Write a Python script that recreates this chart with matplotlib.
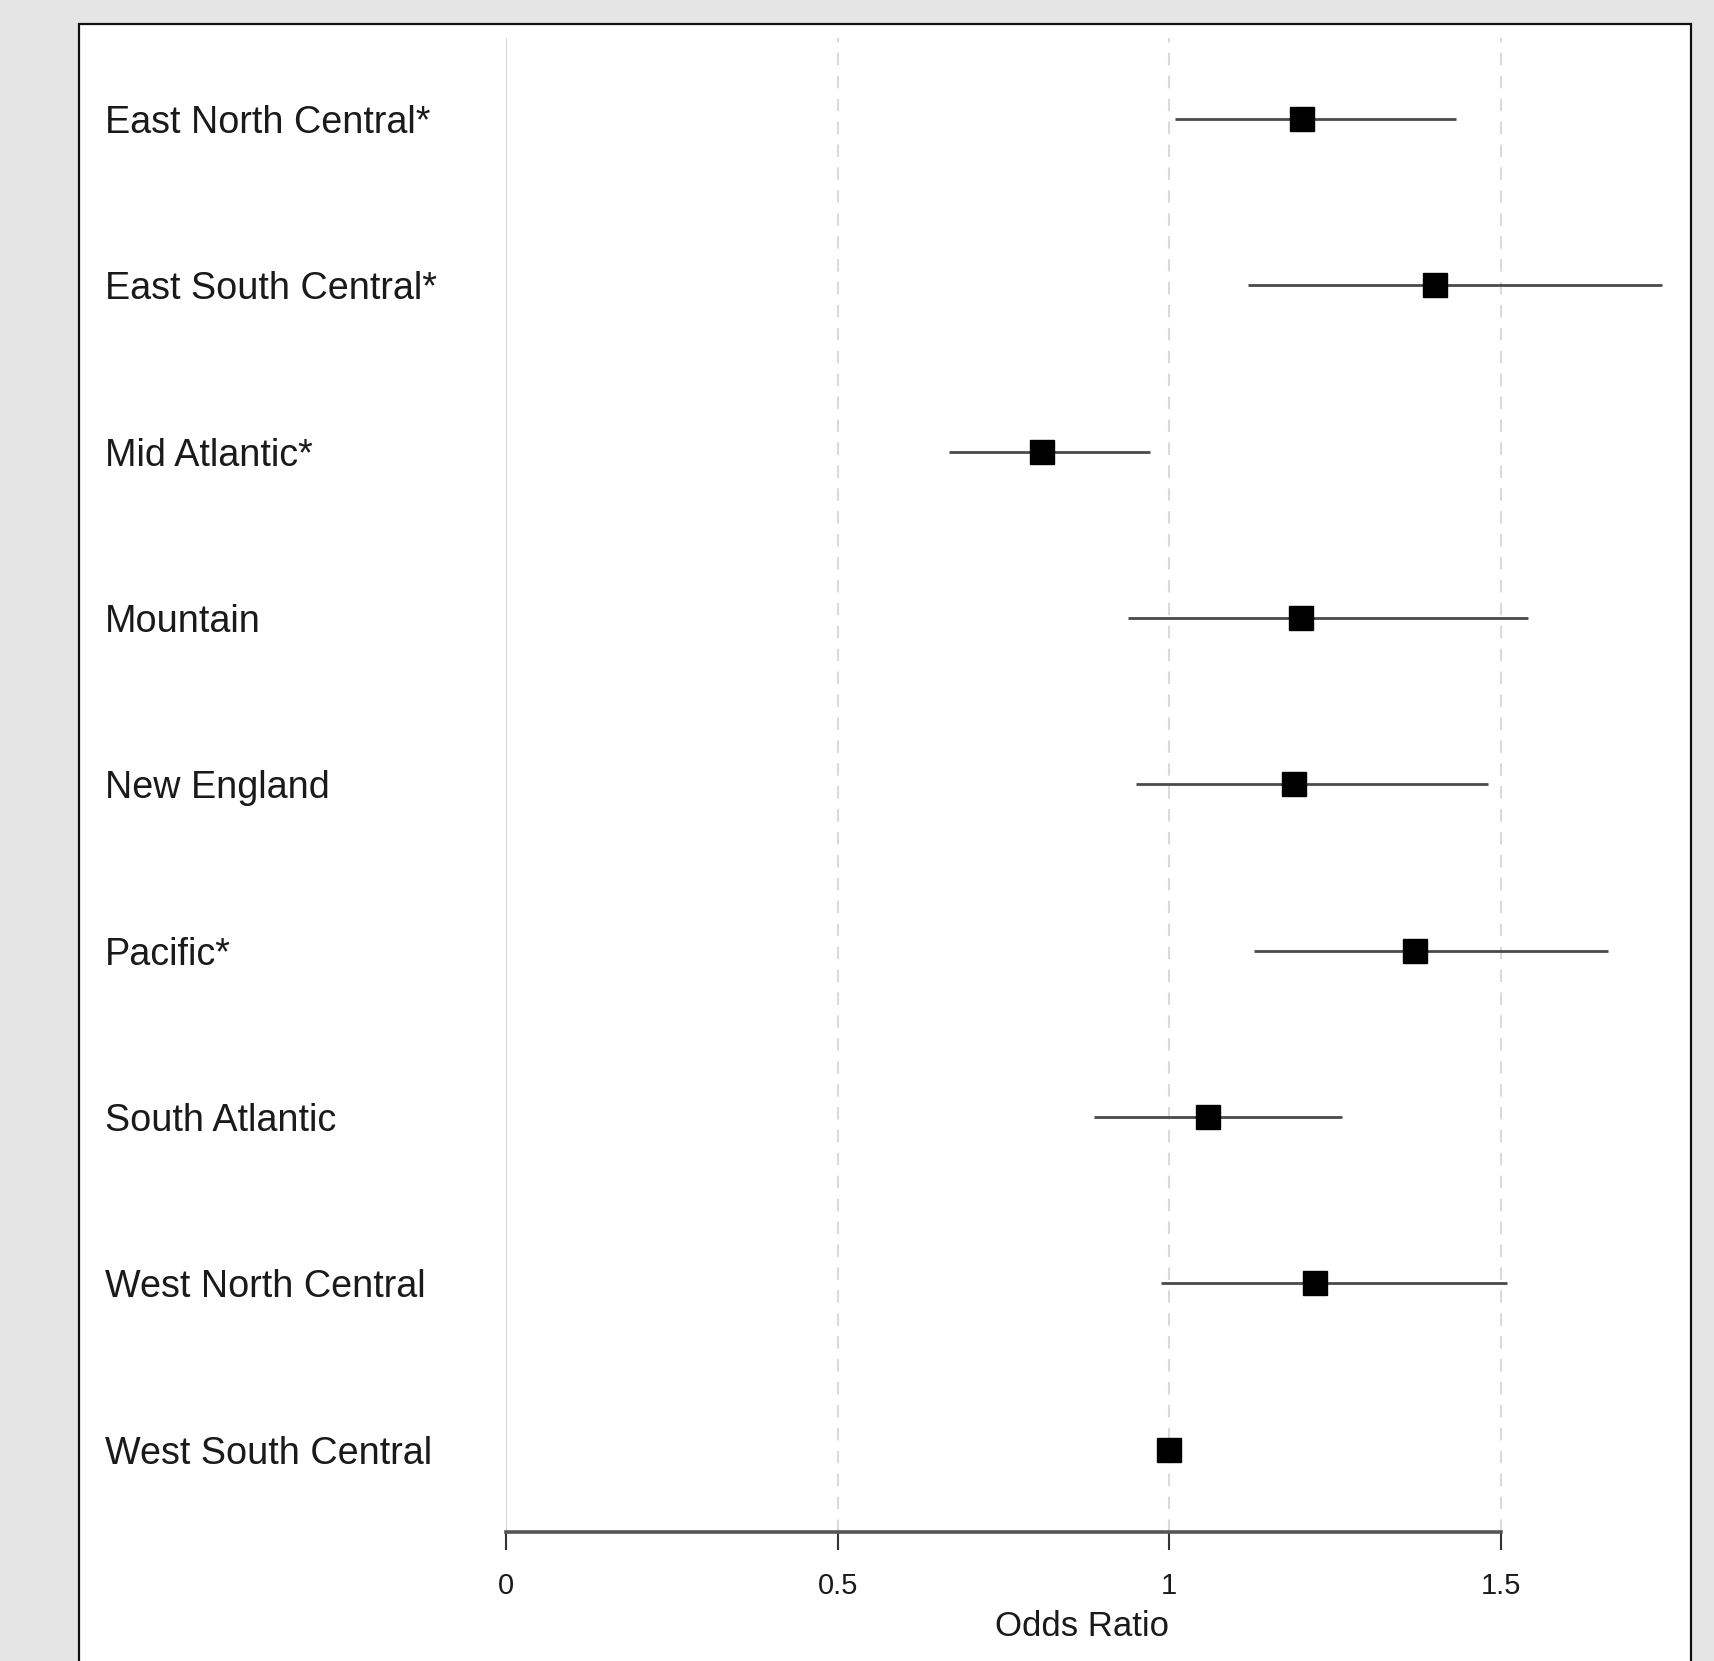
#!/usr/bin/env python3
"""Forest plot of odds ratios by US census division."""

import matplotlib

matplotlib.use('Agg')
from matplotlib import pyplot as plt  # noqa: E402
from matplotlib.patches import Rectangle  # noqa: E402
from matplotlib.transforms import blended_transform_factory  # noqa: E402
import numpy as np  # noqa: E402


regions = [
    'East North Central*',
    'East South Central*',
    'Mid Atlantic*',
    'Mountain',
    'New England',
    'Pacific*',
    'South Atlantic',
    'West North Central',
    'West South Central',
]
odds_ratio = [1.20, 1.40, 0.808, 1.198, 1.188, 1.370, 1.058, 1.220, 1.00]
ci_low = [1.008, 1.118, 0.668, 0.938, 0.950, 1.128, 0.887, 0.988, np.nan]
ci_high = [1.432, 1.743, 0.971, 1.541, 1.480, 1.661, 1.261, 1.509, np.nan]
x_ticks = [0, 0.5, 1, 1.5]
x_tick_labels = ['0', '0.5', '1', '1.5']

W, H, DPI = 1714, 1661, 100


def px(x, y):
    """Pixel (from top-left) to figure fraction."""
    return x / W, 1 - y / H


def main() -> None:
    plt.rcParams.update({
        'font.family': ['Liberation Sans', 'DejaVu Sans'],
    })
    figure = plt.figure(figsize=(W / DPI, H / DPI), dpi=DPI, facecolor='#e5e5e5')

    # white panel with dark border
    figure.patches.append(Rectangle(
        px(79, H + 5), (1691 - 79) / W, (H + 5 - 24) / H,
        transform=figure.transFigure, facecolor='white', edgecolor='#111111',
        linewidth=1.6, zorder=-5,
    ))

    x0_px, unit_px = 506, 663.3
    left, right = 506, 1691
    top, bottom = 38, 1532
    ax = figure.add_axes([left / W, 1 - bottom / H, (right - left) / W, (bottom - top) / H])
    ax.set_zorder(2)
    ax.set_facecolor('none')
    ax.set_xlim(0, (right - x0_px) / unit_px)
    ax.set_ylim(-0.496, 8.487)

    n = len(regions)
    ypos = np.arange(n)[::-1]

    # vertical reference lines
    ax.axvline(0, color='#d4d4d4', linewidth=1.5, zorder=1)
    for xv in x_ticks[1:]:
        ax.axvline(xv, color='#dadada', linewidth=1.5, linestyle=(0, (6, 5)), zorder=1)

    lo = np.asarray(ci_low)
    hi = np.asarray(ci_high)
    ok = ~np.isnan(lo)
    ax.hlines(ypos[ok], lo[ok], hi[ok], color='#4a4a4a', linewidth=2.0, zorder=2, clip_on=False)
    ax.plot(odds_ratio, ypos, linestyle='none', marker='s', markersize=17,
            color='black', zorder=3, clip_on=False)

    label_transform = blended_transform_factory(figure.transFigure, ax.transData)
    for y, name in zip(ypos, regions):
        ax.text(105 / W, y, name, transform=label_transform, ha='left',
                va='center_baseline', fontsize=27.2, color='#1a1a1a')

    for side in ('top', 'right', 'left'):
        ax.spines[side].set_visible(False)
    ax.spines['bottom'].set_bounds(0, 1.5)
    ax.spines['bottom'].set_linewidth(2.6)
    ax.spines['bottom'].set_color('#555555')
    ax.set_yticks([])
    ax.set_xticks(x_ticks)
    ax.set_xticklabels(x_tick_labels, family=['Liberation Sans Narrow', 'Liberation Sans'],
                       fontsize=21, color='#1a1a1a')
    ax.tick_params(axis='x', direction='out', length=13, width=1.5, color='#333333', pad=16)
    ax.set_xlabel('Odds Ratio', family=['Liberation Sans Narrow', 'Liberation Sans'],
                  fontsize=25, color='#1a1a1a')
    ax.xaxis.set_label_coords((1082 - left) / (right - left), -(1627 - bottom) / (bottom - top))
    ax.xaxis.label.set_va('center')

    figure.savefig('out.png', dpi=DPI, facecolor=figure.get_facecolor())
    plt.close(figure)


if __name__ == '__main__':
    main()
